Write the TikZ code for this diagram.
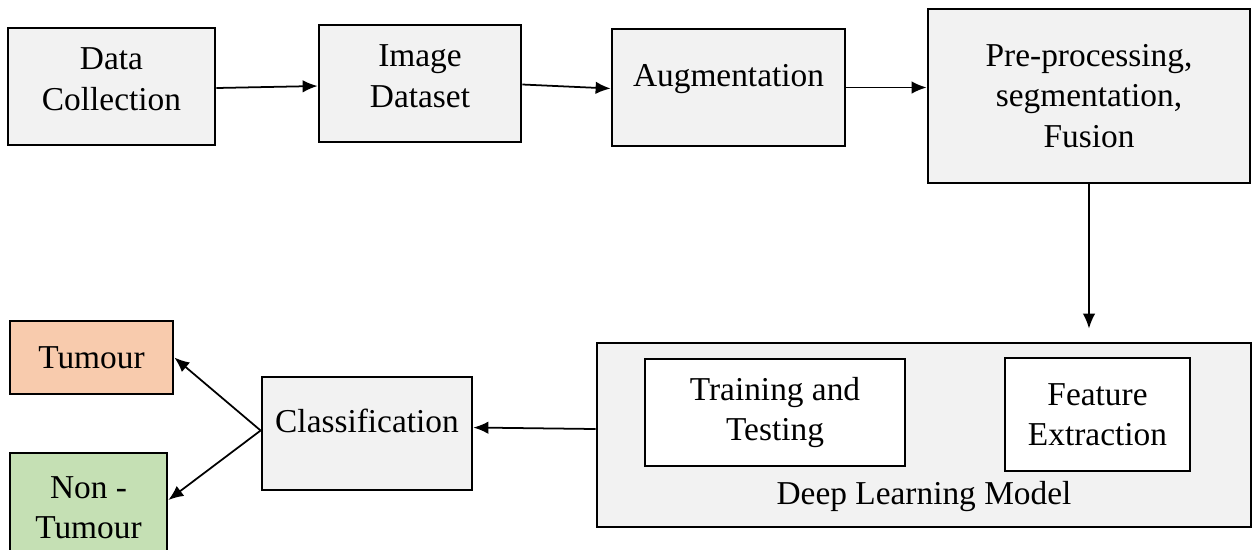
\documentclass[tikz,border=0pt]{standalone}
\usepackage{fontspec}
\setmainfont{Liberation Serif}
\usetikzlibrary{arrows.meta}
\definecolor{boxgray}{HTML}{F2F2F2}
\definecolor{tumourfill}{HTML}{F8CBAD}
\definecolor{nontumourfill}{HTML}{C5E0B4}
\begin{document}
\begin{tikzpicture}[
        x = 0.02cm, y = -0.02cm,
        block/.style = {
            rectangle,
            draw,
            line width = 1.6pt,
            align = center,
            inner sep = 0pt,
            font = \fontsize{19}{23}\selectfont},
        arrow/.style = {
            draw,
            line width = 1pt,
            -{Latex[length=0.3cm, width=0.25cm]}}]
    \useasboundingbox (0,0) rectangle (1253,549);
    % Place nodes
    \node [block, fill=boxgray, minimum width=4.14cm, minimum height=2.34cm, text depth=0.3cm] (dc) at (111.5,86.5) {Data\\Collection};
    \node [block, fill=boxgray, minimum width=4.04cm, minimum height=2.34cm, text depth=0.3cm] (ids) at (420,83.5) {Image\\Dataset};
    \node [block, fill=boxgray, minimum width=4.66cm, minimum height=2.34cm, text depth=0.5cm] (aug) at (728.5,87.5) {Augmentation};
    \node [block, fill=boxgray, minimum width=6.44cm, minimum height=3.48cm] (pre) at (1089,96) {Pre-processing,\\segmentation,\\Fusion};
    \node [block, fill=boxgray, minimum width=13.08cm, minimum height=3.68cm] (dlm) at (924,435) {};
    \node [block, fill=white, minimum width=5.2cm, minimum height=2.14cm] (tt) at (775,412.5) {Training and\\Testing};
    \node [block, fill=white, minimum width=3.7cm, minimum height=2.26cm] (fe) at (1097.5,414.5) {Feature\\Extraction};
    \node [font=\fontsize{19}{23}\selectfont] (dlmlabel) at (924,497) {Deep Learning Model};
    \node [block, fill=boxgray, minimum width=4.2cm, minimum height=2.26cm, text depth=0.5cm] (cls) at (367,433.5) {Classification};
    \node [block, fill=tumourfill, minimum width=3.26cm, minimum height=1.46cm] (tum) at (91.5,357.5) {Tumour};
    \node [block, fill=nontumourfill, minimum width=3.14cm, minimum height=2.2cm] (non) at (88.5,508) {Non -\\Tumour};

    % Draw edges
    \path [arrow] ([yshift=-0.03cm]dc.east) -- ([yshift=-0.05cm]ids.west);
    \path [arrow] ([yshift=-0.02cm]ids.east) -- ([yshift=-0.02cm]aug.west);
    \path [arrow] (aug.east) -- (aug.east -| pre.west);
    \path [arrow, shorten >=0.26cm] (pre.south) -- (pre.south |- dlm.north);
    \path [arrow] ([yshift=0.12cm]dlm.west) -- ([yshift=0.12cm]cls.east);
    \path [arrow] ([yshift=0.06cm]cls.west) -- (tum.east);
    \path [arrow] ([yshift=0.06cm]cls.west) -- ([yshift=0.16cm]non.east);
\end{tikzpicture}
\end{document}
